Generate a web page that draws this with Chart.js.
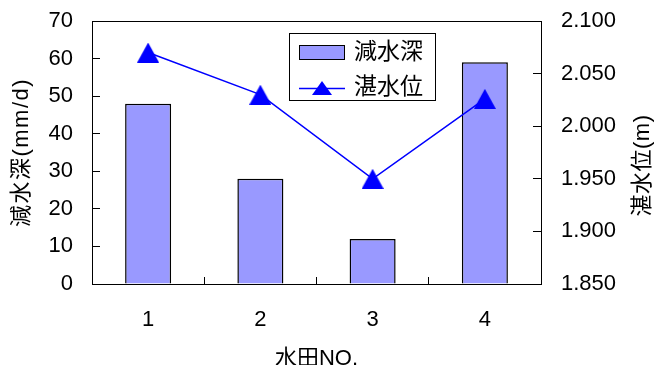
<!DOCTYPE html>
<html>
<head>
<meta charset="utf-8">
<script src="https://cdn.jsdelivr.net/npm/chart.js@4"></script>
<style>
  html, body { margin: 0; padding: 0; background: #fff; }
  canvas { display: block; }
</style>
</head>
<body>
<canvas id="c" width="659" height="365"></canvas>
<script>
// Paddy field numbers
const categories = ['1', '2', '3', '4'];
// 減水深 (mm/d), bars on the left axis
const depthValues = [48, 28, 12, 59];
// 湛水位 (m), line on the right axis
const levelValues = [2.07, 2.03, 1.95, 2.026];
// tick values for both value axes
const depthTicks = [0, 10, 20, 30, 40, 50, 60, 70];
const levelTicks = [1.85, 1.90, 1.95, 2.00, 2.05, 2.10];

const depthLabel = '減水深';
const levelLabel = '湛水位';
const depthTitle = '減水深(mm/d)';
const levelTitle = '湛水位(m)';
const xTitle = '水田NO.';

const FONT = '"Liberation Sans", Arial, "Noto Sans CJK JP", sans-serif';
const BAR_FILL = '#9999FF';
const LINE_BLUE = '#0000FF';

// triangle marker centred on its bounding box
function makeTriangle(w, h, color) {
  const c = document.createElement('canvas');
  c.width = w; c.height = h;
  const g = c.getContext('2d');
  g.fillStyle = color;
  g.beginPath();
  g.moveTo(w / 2, 0);
  g.lineTo(w, h);
  g.lineTo(0, h);
  g.closePath();
  g.fill();
  return c;
}
const triangleMarker = makeTriangle(22, 20, LINE_BLUE);

// fixed scale sizes so the plot frame sits where it should
function fixSize(prop, size) {
  return s => {
    s[prop] = size;
    s.paddingTop = 0; s.paddingBottom = 0;
    s.paddingLeft = 0; s.paddingRight = 0;
  };
}

// white background, top frame line, axis titles and the boxed legend
const decorations = {
  id: 'decorations',
  beforeDraw(chart) {
    const ctx = chart.ctx;
    ctx.save();
    ctx.fillStyle = '#fff';
    ctx.fillRect(0, 0, chart.width, chart.height);
    ctx.restore();
  },
  afterDraw(chart) {
    const ctx = chart.ctx;
    const a = chart.chartArea;
    ctx.save();
    // top edge of the plot frame
    ctx.strokeStyle = '#000';
    ctx.lineWidth = 1;
    ctx.beginPath();
    ctx.moveTo(a.left, Math.round(a.top) + 0.5);
    ctx.lineTo(a.right + 1, Math.round(a.top) + 0.5);
    ctx.stroke();

    // axis titles
    ctx.fillStyle = '#000';
    ctx.font = '22px ' + FONT;
    ctx.textAlign = 'center';
    ctx.textBaseline = 'middle';

    ctx.save();
    ctx.letterSpacing = '1.5px';
    ctx.translate(22, (a.top + a.bottom) / 2);
    ctx.rotate(-Math.PI / 2);
    ctx.fillText(depthTitle, 0, 0);
    ctx.restore();

    ctx.save();
    ctx.letterSpacing = '0.5px';
    ctx.translate(643, (a.top + a.bottom) / 2 + 13);
    ctx.rotate(-Math.PI / 2);
    ctx.fillText(levelTitle, 0, 0);
    ctx.restore();

    ctx.fillText(xTitle, (a.left + a.right) / 2, 359);

    // legend box
    const lx = 289, ly = 33, lw = 146, lh = 67;
    ctx.fillStyle = '#fff';
    ctx.fillRect(lx, ly, lw, lh);
    ctx.strokeStyle = '#000';
    ctx.strokeRect(lx + 0.5, ly + 0.5, lw, lh);

    // bar entry
    ctx.fillStyle = BAR_FILL;
    ctx.fillRect(299.5, 45.5, 45, 14);
    ctx.strokeStyle = '#000';
    ctx.strokeRect(299.5, 45.5, 45, 14);

    // line entry
    ctx.strokeStyle = LINE_BLUE;
    ctx.lineWidth = 1.5;
    ctx.beginPath();
    ctx.moveTo(299, 88.5);
    ctx.lineTo(345, 88.5);
    ctx.stroke();
    ctx.fillStyle = LINE_BLUE;
    ctx.beginPath();
    ctx.moveTo(322, 81);
    ctx.lineTo(332, 95);
    ctx.lineTo(312, 95);
    ctx.closePath();
    ctx.fill();

    ctx.fillStyle = '#000';
    ctx.font = '23px ' + FONT;
    ctx.textAlign = 'left';
    ctx.fillText(depthLabel, 354, 53);
    ctx.fillText(levelLabel, 354, 88);
    ctx.restore();
  }
};

const tickFont = { family: FONT, size: 22 };

new Chart(document.getElementById('c'), {
  type: 'bar',
  data: {
    labels: categories,
    datasets: [
      {
        type: 'line',
        label: levelLabel,
        data: levelValues,
        yAxisID: 'y1',
        order: 0,
        borderColor: LINE_BLUE,
        backgroundColor: LINE_BLUE,
        borderWidth: 1.5,
        pointStyle: triangleMarker,
        pointRadius: 11,
        tension: 0
      },
      {
        type: 'bar',
        label: depthLabel,
        data: depthValues,
        yAxisID: 'y',
        order: 1,
        backgroundColor: BAR_FILL,
        borderColor: '#000',
        borderWidth: 1.5,
        categoryPercentage: 1,
        barPercentage: 0.41
      }
    ]
  },
  options: {
    responsive: false,
    animation: false,
    devicePixelRatio: 1,
    layout: { padding: { top: 21, left: 0, right: 0, bottom: 0 }, autoPadding: false },
    plugins: {
      legend: { display: false },
      tooltip: { enabled: false }
    },
    scales: {
      x: {
        offset: true,
        grid: { offset: true, drawOnChartArea: false, tickLength: -7, color: '#000', lineWidth: 1 },
        border: { color: '#000', width: 1 },
        ticks: { font: tickFont, color: '#000', padding: 30, maxRotation: 0, autoSkip: false },
        afterFit: fixSize('height', 81)
      },
      y: {
        position: 'left',
        min: 0,
        max: 70,
        afterBuildTicks(s) { s.ticks = depthTicks.map(v => ({ value: v })); },
        grid: { drawOnChartArea: false, tickLength: -8, color: '#000', lineWidth: 1 },
        border: { color: '#000', width: 1 },
        ticks: { font: tickFont, color: '#000', padding: 27, callback: v => String(v) },
        afterFit: fixSize('width', 92)
      },
      y1: {
        position: 'right',
        min: 1.85,
        max: 2.1,
        afterBuildTicks(s) { s.ticks = levelTicks.map(v => ({ value: v })); },
        grid: { drawOnChartArea: false, tickLength: -8, color: '#000', lineWidth: 1 },
        border: { color: '#000', width: 1 },
        ticks: { font: tickFont, color: '#000', padding: 28, callback: v => Number(v).toFixed(3) },
        afterFit: fixSize('width', 118)
      }
    }
  },
  plugins: [decorations]
});
</script>
</body>
</html>
